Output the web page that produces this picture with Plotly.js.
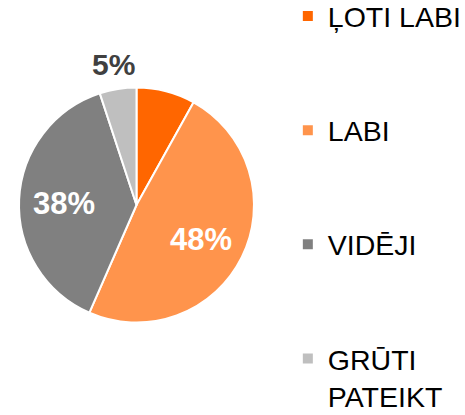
<!DOCTYPE html>
<html>
<head>
<meta charset="utf-8">
<script src="https://cdn.plot.ly/plotly-3.0.1.min.js"></script>
<style>html,body{margin:0;padding:0;background:#fff;}#chart{width:465px;height:415px;}</style>
</head>
<body>
<div id="chart"></div>
<script>
var categories = ['ĻOTI LABI', 'LABI', 'VIDĒJI', 'GRŪTI<br>PATEIKT'];
var values = [8, 48, 38, 5];
var colors = ['#FF6600', '#FF944C', '#808080', '#BFBFBF'];
var showLabel = [false, true, true, true];
var labelInside = [true, true, true, false];

var W = 465, H = 415;
// pie geometry (px): centre and radius
var CX = 136.5, CY = 205, R = 117.5;

// pad legend entries (except last) with blank lines to reproduce the wide legend spacing
var legendLabels = categories.map(function (c, i) {
  return i < categories.length - 1 ? c + '<br> <br> ' : c;
});

var trace = {
  type: 'pie',
  labels: legendLabels,
  values: values,
  sort: false,
  direction: 'clockwise',
  rotation: 0,
  marker: { colors: colors, line: { color: '#FFFFFF', width: 2 } },
  textinfo: 'none',
  hoverinfo: 'none',
  domain: { x: [(CX - R) / W, (CX + R) / W], y: [(H - CY - R) / H, (H - CY + R) / H] }
};

// data labels placed at each slice's mid-angle (derived from the values)
var total = values.reduce(function (a, b) { return a + b; }, 0);
var annotations = [];
var cum = 0;
values.forEach(function (v, i) {
  var mid = (cum + v / 2) / total * 2 * Math.PI;
  cum += v;
  if (!showLabel[i]) return;
  var k = labelInside[i] ? 0.615 : 1.23;
  var px = CX + k * R * Math.sin(mid);
  var py = CY - k * R * Math.cos(mid);
  annotations.push({
    xref: 'paper', yref: 'paper',
    x: px / W, y: 1 - py / H,
    xanchor: 'center', yanchor: 'middle',
    yshift: -2,
    text: v + '%',
    showarrow: false,
    font: {
      family: 'Liberation Sans, Arial, sans-serif',
      size: labelInside[i] ? 31 : 30,
      color: labelInside[i] ? '#FFFFFF' : '#404040',
      weight: 'bold'
    }
  });
});

var layout = {
  width: W,
  height: H,
  margin: { l: 0, r: 0, t: 0, b: 0, autoexpand: false },
  paper_bgcolor: '#FFFFFF',
  showlegend: true,
  annotations: annotations,
  legend: {
    xref: 'paper', yref: 'paper',
    x: 0.619, xanchor: 'left',
    y: 1.0217, yanchor: 'top',
    valign: 'top',
    maxheight: 1000,
    font: { family: 'Liberation Sans, Arial, sans-serif', size: 28.5, color: '#000000' },
    bgcolor: 'rgba(0,0,0,0)'
  }
};

Plotly.newPlot('chart', [trace], layout, { displayModeBar: false, staticPlot: true });
</script>
</body>
</html>
